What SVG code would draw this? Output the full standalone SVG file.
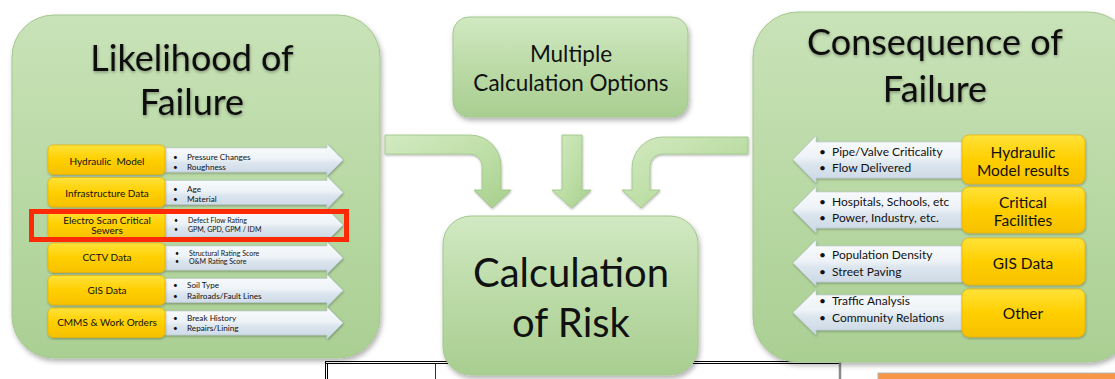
<svg xmlns="http://www.w3.org/2000/svg" width="1115" height="379" viewBox="0 0 1115 379">
<defs>
<linearGradient id="gBig" x1="0" y1="0" x2="0" y2="1">
<stop offset="0" stop-color="#c9e3b8"/>
<stop offset="0.5" stop-color="#b9d9a5"/>
<stop offset="1" stop-color="#aacf93"/>
</linearGradient>
<linearGradient id="gSmall" x1="0" y1="0" x2="0" y2="1">
<stop offset="0" stop-color="#d2e9c3"/>
<stop offset="0.45" stop-color="#bddca9"/>
<stop offset="1" stop-color="#a9ce91"/>
</linearGradient>
<linearGradient id="gYel" x1="0" y1="0" x2="0" y2="1">
<stop offset="0" stop-color="#ffe23a"/>
<stop offset="0.5" stop-color="#ffcf00"/>
<stop offset="1" stop-color="#f6c000"/>
</linearGradient>
<linearGradient id="gChev" x1="0" y1="0" x2="0" y2="1">
<stop offset="0" stop-color="#fbfcfd"/>
<stop offset="0.45" stop-color="#eef3f7"/>
<stop offset="0.6" stop-color="#dbe5ee"/>
<stop offset="1" stop-color="#cad7e4"/>
</linearGradient>
<linearGradient id="gArr" x1="0" y1="0" x2="1" y2="1">
<stop offset="0" stop-color="#d3eac1"/>
<stop offset="0.5" stop-color="#bfdfa8"/>
<stop offset="1" stop-color="#a7cf8c"/>
</linearGradient>
<filter id="sh" x="-10%" y="-10%" width="120%" height="125%">
<feDropShadow dx="1.5" dy="3" stdDeviation="2.5" flood-color="#000" flood-opacity="0.3"/>
</filter>
<filter id="shS" x="-10%" y="-20%" width="120%" height="150%">
<feDropShadow dx="0.5" dy="1.2" stdDeviation="0.8" flood-color="#000" flood-opacity="0.3"/>
</filter>
<filter id="tsh" x="-5%" y="-20%" width="110%" height="150%">
<feDropShadow dx="0.5" dy="1.5" stdDeviation="1.5" flood-color="#000" flood-opacity="0.35"/>
</filter>
</defs>
<style>
text{font-family:Lato,"Liberation Sans",sans-serif;fill:#111;}
.big{fill:url(#gBig);stroke:#a3c78c;stroke-width:1;filter:url(#sh);}
.small{fill:url(#gSmall);stroke:#a3c78c;stroke-width:1;filter:url(#sh);}
.yel{fill:url(#gYel);stroke:#e6b000;stroke-width:0.7;filter:url(#shS);}
.chev{fill:url(#gChev);stroke:#b9c7d5;stroke-width:0.6;filter:url(#shS);}
.arr{fill:url(#gArr);stroke:#9cc484;stroke-width:0.8;filter:url(#shS);}
.title{font-size:36px;text-anchor:middle;filter:url(#tsh);}
.ly{font-size:10px;text-anchor:middle;}
.lb{font-size:8.2px;}
.ls{font-size:7px;}
.ry{font-size:15.5px;text-anchor:middle;}
.rb{font-size:12px;}
.tbl{stroke:#000;stroke-width:1;fill:none;}
</style>

<g id="table-lines">
<line class="tbl" x1="325" y1="361.5" x2="840" y2="361.5"/>
<line class="tbl" x1="325" y1="363.5" x2="840" y2="363.5"/>
<line class="tbl" x1="325.5" y1="361.5" x2="325.5" y2="379"/>
<line class="tbl" x1="327.5" y1="363.5" x2="327.5" y2="379"/>
<line x1="435.5" y1="363.5" x2="435.5" y2="379" stroke="#333" stroke-width="1"/>
<line x1="840" y1="362" x2="840" y2="379" stroke="#8a8a8a" stroke-width="2.5"/>
<rect x="878" y="373" width="240" height="10" fill="#f79646" stroke="#b5b5b5" stroke-width="1"/>
</g>

<g id="likelihood">
<rect class="big" x="12" y="15" width="368" height="343" rx="42"/>
<text class="title" x="192" y="71">Likelihood of</text>
<text class="title" x="192" y="115">Failure</text>
<g id="lrow1">
<path class="chev" d="M165,148 H327 V144 L343,160 L327,176 V172 H165 Z"/>
<rect class="yel" x="48" y="145" width="117" height="29.5" rx="5"/>
<text class="ly" x="107" y="165">Hydraulic&#160; Model</text>
<text class="lb" x="173" y="159.5">•</text><text class="lb" x="187" y="159.5">Pressure Changes</text>
<text class="lb" x="173" y="169.5">•</text><text class="lb" x="187" y="169.5">Roughness</text>
</g>
<g id="lrow2">
<path class="chev" d="M165,180.5 H327 V176.5 L343,192.5 L327,208.5 V204.5 H165 Z"/>
<rect class="yel" x="48" y="177.5" width="117" height="29.5" rx="5"/>
<text class="ly" x="107" y="197">Infrastructure Data</text>
<text class="lb" x="173" y="191.5">•</text><text class="lb" x="187" y="191.5">Age</text>
<text class="lb" x="173" y="201.5">•</text><text class="lb" x="187" y="201.5">Material</text>
</g>
<g id="lrow3">
<path class="chev" d="M165,213 H327 V209 L343,225 L327,241 V237 H165 Z"/>
<rect class="yel" x="48" y="210" width="117" height="29.5" rx="5"/>
<text class="ly" x="107" y="224">Electro Scan Critical</text>
<text class="ly" x="107" y="234">Sewers</text>
<text class="ls" x="174" y="223">•</text><text class="ls" x="188" y="223">Defect Flow Rating</text>
<text class="ls" x="174" y="231.5">•</text><text class="ls" x="188" y="231.5">GPM, GPD, GPM / IDM</text>
</g>
<g id="lrow4">
<path class="chev" d="M165,246 H327 V242 L343,258 L327,274 V270 H165 Z"/>
<rect class="yel" x="48" y="243" width="117" height="29.5" rx="5"/>
<text class="ly" x="107" y="261">CCTV Data</text>
<text class="ls" x="175" y="255.5">•</text><text class="ls" x="189" y="255.5">Structural Rating Score</text>
<text class="ls" x="175" y="264">•</text><text class="ls" x="189" y="264">O&amp;M Rating Score</text>
</g>
<g id="lrow5">
<path class="chev" d="M165,278.5 H327 V274.5 L343,290.5 L327,306.5 V302.5 H165 Z"/>
<rect class="yel" x="48" y="275.5" width="117" height="29.5" rx="5"/>
<text class="ly" x="107" y="294">GIS Data</text>
<text class="lb" x="173" y="288">•</text><text class="lb" x="187" y="288">Soil Type</text>
<text class="lb" x="173" y="298.5">•</text><text class="lb" x="187" y="298.5">Railroads/Fault Lines</text>
</g>
<g id="lrow6">
<path class="chev" d="M165,311 H327 V307 L343,323 L327,339 V335 H165 Z"/>
<rect class="yel" x="48" y="308" width="117" height="29.5" rx="5"/>
<text class="ly" x="107" y="326">CMMS &amp; Work Orders</text>
<text class="lb" x="173" y="320.5">•</text><text class="lb" x="187" y="320.5">Break History</text>
<text class="lb" x="173" y="330.5">•</text><text class="lb" x="187" y="330.5">Repairs/Lining</text>
</g>
<rect id="highlight" x="31.5" y="211.5" width="315" height="28" fill="none" stroke="#fe2a06" stroke-width="5"/>
</g>

<g id="options">
<rect class="small" x="453" y="17" width="235" height="100" rx="16"/>
<text x="571" y="62" font-size="22.5" text-anchor="middle">Multiple</text>
<text x="571" y="91" font-size="22.5" text-anchor="middle">Calculation Options</text>
</g>

<g id="connectors">
<path class="arr" d="M385,135 H470 A31,31 0 0 1 501,166 V190 H511 L492,208 L474,190 H482 V166 A12,12 0 0 0 470,154 H385 Z"/>
<path class="arr" d="M562,135 H582 V190 H591 L571.5,208 L552,190 H562 Z"/>
<path class="arr" d="M748,137 H663 A31,31 0 0 0 632,168 V190 H622 L641,208 L660,190 H650 V166 A12,12 0 0 1 662,154 H748 Z"/>
</g>

<g id="risk">
<rect class="small" x="443" y="216" width="255" height="159" rx="28"/>
<text x="571" y="287" font-size="40" text-anchor="middle">Calculation</text>
<text x="571" y="337" font-size="40" text-anchor="middle">of Risk</text>
</g>

<g id="consequence">
<rect class="big" x="753" y="12" width="380" height="350" rx="45"/>
<text class="title" x="935" y="55">Consequence of</text>
<text class="title" x="935" y="102">Failure</text>
<g id="rrow1">
<path class="chev" d="M962,142 H816 V136 L793,159.5 L816,183 V178 H962 Z"/>
<rect class="yel" x="962" y="135" width="123" height="49" rx="7"/>
<text class="ry" x="1023" y="158">Hydraulic</text>
<text class="ry" x="1023" y="176">Model results</text>
<text class="rb" x="819" y="155.5">•</text><text class="rb" x="832" y="155.5">Pipe/Valve Criticality</text>
<text class="rb" x="819" y="171.5">•</text><text class="rb" x="832" y="171.5">Flow Delivered</text>
</g>
<g id="rrow2">
<path class="chev" d="M962,192 H816 V187 L793,210 L816,233 V228 H962 Z"/>
<rect class="yel" x="962" y="187" width="123" height="46" rx="7"/>
<text class="ry" x="1023" y="208">Critical</text>
<text class="ry" x="1023" y="226">Facilities</text>
<text class="rb" x="819" y="205.5">•</text><text class="rb" x="832" y="205.5">Hospitals, Schools, etc</text>
<text class="rb" x="819" y="222">•</text><text class="rb" x="832" y="222">Power, Industry, etc.</text>
</g>
<g id="rrow3">
<path class="chev" d="M962,246 H816 V240 L793,263 L816,286 V282 H962 Z"/>
<rect class="yel" x="962" y="238" width="123" height="47" rx="7"/>
<text class="ry" x="1023" y="269">GIS Data</text>
<text class="rb" x="819" y="259">•</text><text class="rb" x="832" y="259">Population Density</text>
<text class="rb" x="819" y="275.5">•</text><text class="rb" x="832" y="275.5">Street Paving</text>
</g>
<g id="rrow4">
<path class="chev" d="M962,295 H816 V290 L793,312.5 L816,335 V330 H962 Z"/>
<rect class="yel" x="962" y="289" width="123" height="48" rx="7"/>
<text class="ry" x="1023" y="319">Other</text>
<text class="rb" x="819" y="305">•</text><text class="rb" x="832" y="305">Traffic Analysis</text>
<text class="rb" x="819" y="321.5">•</text><text class="rb" x="832" y="321.5">Community Relations</text>
</g>
</g>
</svg>
